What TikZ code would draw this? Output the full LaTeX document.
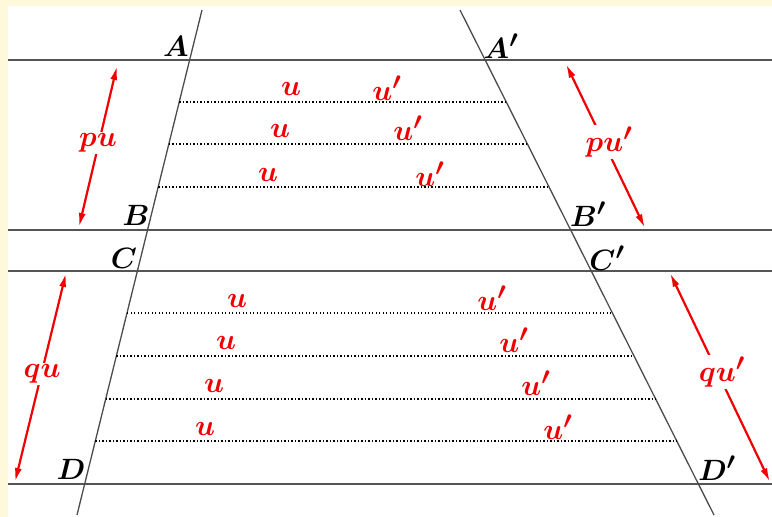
\documentclass[tikz,border=0pt]{standalone}
\usepackage{amsmath,bm}
\usetikzlibrary{arrows.meta}
\definecolor{cream}{RGB}{255,249,220}
\definecolor{redc}{RGB}{240,0,0}
\definecolor{linegray}{RGB}{85,85,85}
\newcommand\mylbl[1]{\scalebox{1.18}{$\boldsymbol{#1}$}}
\begin{document}
\begin{tikzpicture}[x=1pt,y=-1pt,
  hline/.style={linegray,line width=1.5pt},
  tline/.style={linegray!90!black,line width=1.3pt},
  dotline/.style={black,line width=1.3pt,dash pattern=on 1.3pt off 2.2pt},
  ptlabel/.style={inner sep=0pt,font=\Huge},
  ulabel/.style={inner sep=0pt,text=redc,font=\Huge},
  redarrow/.style={redc,line width=2.2pt,{Latex[length=14pt,width=7pt]}-{Latex[length=14pt,width=7pt]}}]
\useasboundingbox (0,0) rectangle (772,517);
\fill[cream] (0,0) rectangle (772,517);
\fill[white] (8,6) rectangle (772,517);
% horizontal lines
\foreach \n/\y in {a/60,b/230,c/271,d/484}{
  \coordinate (h\n1) at (8,\y);
  \coordinate (h\n2) at (772,\y);
  \draw[hline] (h\n1) -- (h\n2);
}
% transversals
\coordinate (L1) at (202,10);
\coordinate (L2) at (77,515);
\coordinate (R1) at (460,10);
\coordinate (R2) at (714,515);
\draw[tline] (L1) -- (L2);
\draw[tline] (R1) -- (R2);
% dotted lines
\foreach \i/\y/\l/\r in {1/102/179.2/506.3,2/144/168.8/527.4,3/187/158.2/549.0,
  4/313/127.0/612.4,5/356/116.4/634.0,6/399/105.7/655.7,7/441/95.3/676.8}{
  \coordinate (dl\i) at (\l,\y);
  \coordinate (dr\i) at (\r,\y);
  \draw[dotline] (dl\i) -- (dr\i);
}
% point labels
\node[ptlabel] (A) at (176,46) {\mylbl{A}};
\node[ptlabel] (Ap) at (501,46) {\mylbl{A'}};
\node[ptlabel] (B) at (136,215) {\mylbl{B}};
\node[ptlabel] (Bp) at (588,214) {\mylbl{B'}};
\node[ptlabel] (C) at (124,258) {\mylbl{C}};
\node[ptlabel] (Cp) at (607,258) {\mylbl{C'}};
\node[ptlabel] (D) at (71,469) {\mylbl{D}};
\node[ptlabel] (Dp) at (717,468) {\mylbl{D'}};
% u labels
\foreach \i/\x/\y in {1/291/89,2/280/131,3/268/175,4/237/301,5/226/343,6/214/386,7/205/429}{
  \node[ulabel] (u\i) at (\x,\y) {\mylbl{u}};
}
\foreach \i/\x/\y in {1/387/88,2/408/128,3/430/174,4/492/298,5/514/340,6/536/383,7/558/427}{
  \node[ulabel] (up\i) at (\x,\y) {\mylbl{u'}};
}
% red arrows
\coordinate (a1s) at (79,227); \coordinate (a1e) at (117,66);
\coordinate (a2s) at (15,482); \coordinate (a2e) at (66,273);
\coordinate (a3s) at (566,64); \coordinate (a3e) at (645,228);
\coordinate (a4s) at (670,273); \coordinate (a4e) at (770,482);
\draw[redarrow] (a1s) -- (a1e);
\draw[redarrow] (a2s) -- (a2e);
\draw[redarrow] (a3s) -- (a3e);
\draw[redarrow] (a4s) -- (a4e);
\node[ulabel,fill=white,inner sep=2pt] (pu) at (98,143) {\mylbl{pu}};
\node[ulabel,fill=white,inner sep=2pt] (qu) at (42,374) {\mylbl{qu}};
\node[ulabel,fill=white,inner sep=2pt] (pup) at (609,142) {\mylbl{pu'}};
\node[ulabel,fill=white,inner sep=2pt] (qup) at (722,372) {\mylbl{qu'}};
\end{tikzpicture}
\end{document}
